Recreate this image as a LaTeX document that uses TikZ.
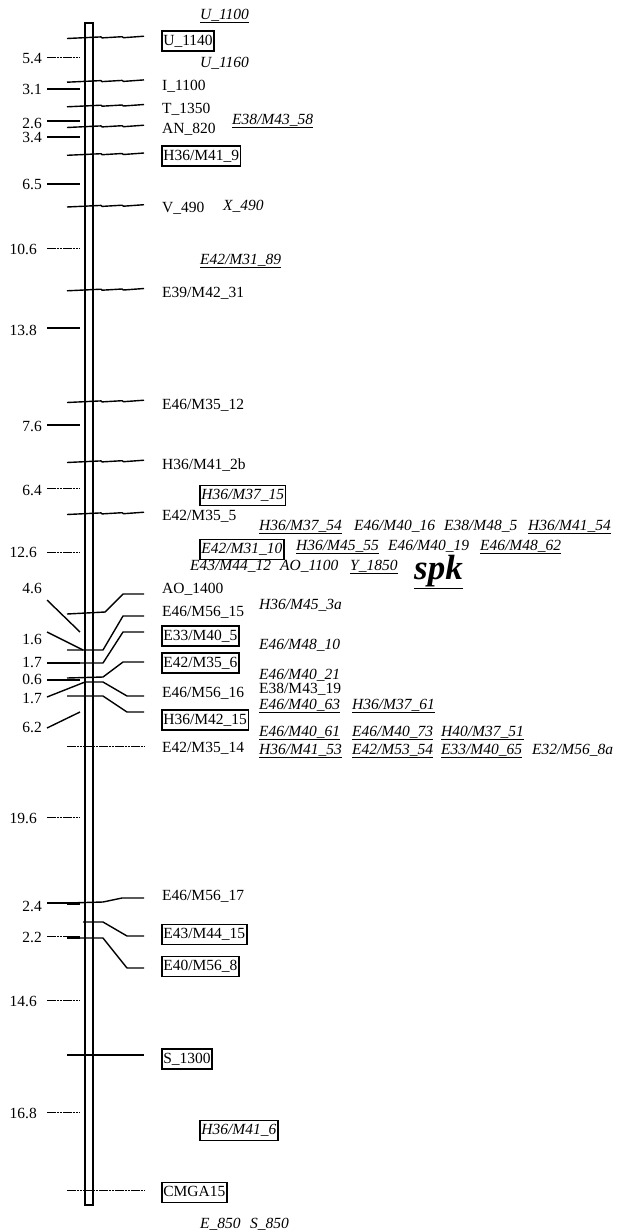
\documentclass[tikz,border=0pt]{standalone}
\usepackage{fontspec}
\setmainfont{Liberation Serif}
\newcommand\mfs{\fontsize{15.5}{18}\selectfont}
\newcommand\ul[1]{\underline{#1}}
\begin{document}
\begin{tikzpicture}[x=1pt,y=-1pt,
  mk/.style={line width=1.4pt,line join=round},
  thinmk/.style={line width=1pt,dash pattern=on 2.5pt off 0.7pt},
  tk/.style={line width=1.4pt},
  lab/.style={anchor=base west,inner sep=0pt,font=\mfs},
  ilab/.style={anchor=base west,inner sep=0pt,font=\mfs\itshape},
  num/.style={anchor=base east,inner sep=0pt,font=\mfs},
  bx/.style={draw,line width=1.7pt,anchor=west,inner xsep=1.5pt,inner ysep=3.5pt,text height=10.5pt,text depth=2.5pt,font=\mfs},
  ibx/.style={bx,font=\mfs\itshape},
  zigmark/.pic={\draw[mk] (67,1.3) -- (101,-0.3) -- (102,0.7) -- (122,-0.5) -- (123.5,0.5) -- (144,-1);}
]
\useasboundingbox (0,0) rectangle (620,1232);
% chromosome
\node[draw,line width=1.4pt,minimum width=8pt,minimum height=1182pt,inner sep=0pt] (chr) at (89,614) {};

% scale ticks, horizontal
\foreach \y/\t/\b/\r/\s in {57/5.4/63/42/thinmk, 89/3.1/94/42/tk, 121/2.6/128/42/tk, 137/3.4/142/42/tk, 184/6.5/189/42/tk, 248/10.6/254/37/thinmk, 328/13.8/335/37/tk, 425/7.6/431/42/tk, 488/6.4/495/42/thinmk, 552/12.6/557/37/thinmk, 663/1.7/667/42/tk, 680/0.6/684/42/tk, 817/19.6/823/37/thinmk, 903/2.4/911/42/tk, 936/2.2/942/42/thinmk, 1000/14.6/1006/37/thinmk, 1112/16.8/1118/37/thinmk}{
  \node[num] (n\y) at (\r,\b) {\t};
  \coordinate (ta\y) at (47,\y);
  \coordinate (tb\y) at (80,\y);
  \draw[\s] (ta\y) -- (tb\y);
}
% scale ticks, slanted
\node[num] (d46) at (42,593) {4.6};
\draw[tk] (47,600) -- (80,632);
\node[num] (d16) at (42,644) {1.6};
\draw[tk] (47,632) -- (83,650);
\node[num] (d17) at (42,703) {1.7};
\draw[tk] (47,697) -- (85,682);
\node[num] (d62) at (42,732) {6.2};
\draw[tk] (47,728) -- (80,712);
\draw[line width=3pt] (67,903) -- (80,903);
\draw[line width=3pt] (67,937) -- (80,937);

% zigzag markers
\foreach \y in {37.2, 80.9, 105.5, 126.2, 154, 205.7, 289.5, 401.2, 461.2, 513.2}{
  \pic at (0,\y) {zigmark};
}

% labels top part
\node[ilab] (u1100) at (200,19) {\ul{U\_1100}};
\node[bx] (u1140) at (161,41) {U\_1140};
\node[ilab] (u1160) at (200,67) {U\_1160};
\node[lab] (i1100) at (162,90) {I\_1100};
\node[lab] (t1350) at (162,113) {T\_1350};
\node[ilab] (e3858) at (232,124) {\ul{E38/M43\_58}};
\node[lab] (an820) at (162,133) {AN\_820};
\node[bx] (h369) at (161,156) {H36/M41\_9};
\node[lab] (v490) at (162,212) {V\_490};
\node[ilab] (x490) at (223,210) {X\_490};
\node[ilab] (e4289) at (200,264) {\ul{E42/M31\_89}};
\node[lab] (e3931) at (162,297) {E39/M42\_31};
\node[lab] (e4612) at (162,409) {E46/M35\_12};
\node[lab] (h362b) at (162,469) {H36/M41\_2b};
\node[ibx] (h3715) at (199,495.5) {H36/M37\_15};
\node[lab] (e425) at (162,520) {E42/M35\_5};

% cluster rows
\node[ilab] (r1a) at (259,530) {\ul{H36/M37\_54}};
\node[ilab] (r1b) at (354,530) {E46/M40\_16};
\node[ilab] (r1c) at (444,530) {E38/M48\_5};
\node[ilab] (r1d) at (528,530) {\ul{H36/M41\_54}};
\node[ibx] (r2a) at (199,549.5) {E42/M31\_10};
\node[ilab] (r2b) at (296,550) {\ul{H36/M45\_55}};
\node[ilab] (r2c) at (388,550) {E46/M40\_19};
\node[ilab] (r2d) at (480,550) {\ul{E46/M48\_62}};
\node[ilab] (r3a) at (190,570) {E43/M44\_12};
\node[ilab] (r3b) at (280,570) {AO\_1100};
\node[ilab] (r3c) at (350,570) {\ul{Y\_1850}};
\node[anchor=base west,inner sep=0pt,font=\fontsize{35}{38}\selectfont\bfseries\itshape] (spk) at (414,579) {\ul{spk}};

\node[lab] (ao1400) at (162,593) {AO\_1400};
\node[lab] (e4615) at (162,616) {E46/M56\_15};
\node[ilab] (h363a) at (259,609) {H36/M45\_3a};
\node[bx] (e335) at (161,636) {E33/M40\_5};
\node[ilab] (e4810) at (259,649) {E46/M48\_10};
\node[bx] (e426) at (161,663) {E42/M35\_6};
\node[ilab] (e4021) at (259,679) {E46/M40\_21};
\node[lab] (e4616) at (162,697) {E46/M56\_16};
\node[lab] (e3819) at (259,693) {E38/M43\_19};
\node[ilab] (e4063) at (259,709) {\ul{E46/M40\_63}};
\node[ilab] (h3761) at (352,709) {\ul{H36/M37\_61}};
\node[bx] (h4215) at (161,720) {H36/M42\_15};
\node[ilab] (r5a) at (259,736) {\ul{E46/M40\_61}};
\node[ilab] (r5b) at (352,736) {\ul{E46/M40\_73}};
\node[ilab] (r5c) at (441,736) {\ul{H40/M37\_51}};
\node[lab] (e4214) at (162,752) {E42/M35\_14};
\node[ilab] (r6a) at (259,754) {\ul{H36/M41\_53}};
\node[ilab] (r6b) at (352,754) {\ul{E42/M53\_54}};
\node[ilab] (r6c) at (441,754) {\ul{E33/M40\_65}};
\node[ilab] (r6d) at (532,754) {E32/M56\_8a};

% lower labels
\node[lab] (e4617) at (162,900) {E46/M56\_17};
\node[bx] (e4415) at (161,934.5) {E43/M44\_15};
\node[bx] (e568) at (161,966.5) {E40/M56\_8};
\node[bx] (s1300) at (161,1059) {S\_1300};
\node[ibx] (h416) at (199,1130.5) {H36/M41\_6};
\node[bx] (cmga) at (161,1192.5) {CMGA15};
\node[ilab] (e850) at (200,1228) {E\_850};
\node[ilab] (s850) at (250,1228) {S\_850};

% connectors
\coordinate (c1) at (144,594);
\draw[mk] (67,614) -- (105,612) -- (123,594) -- (c1);
\coordinate (c2) at (144,616);
\draw[mk] (67,650) -- (103,650) -- (123,616) -- (c2);
\coordinate (c3) at (144,632);
\draw[mk] (67,663) -- (103,663) -- (123,632) -- (c3);
\coordinate (c4) at (144,662);
\draw[mk] (67,678) -- (103,677) -- (123,662) -- (c4);
\coordinate (c5) at (144,696);
\draw[mk] (85,682) -- (103,682) -- (127,696) -- (c5);
\coordinate (c6) at (144,712);
\draw[mk] (67,696) -- (103,696) -- (127,712) -- (c6);
\coordinate (c7) at (144,746);
\draw[thinmk] (67,746) -- (c7);
\coordinate (c8) at (144,898);
\draw[mk] (67,903) -- (103,902) -- (122,898) -- (c8);
\coordinate (c9) at (144,936);
\draw[mk] (83,922) -- (103,922) -- (127,936) -- (c9);
\coordinate (c10) at (144,968);
\draw[mk] (67,938) -- (103,938) -- (127,968) -- (c10);
\coordinate (c11) at (144,1055);
\draw[mk] (67,1055) -- (c11);
\coordinate (c12) at (144,1190);
\draw[thinmk] (67,1190) -- (c12);
\end{tikzpicture}
\end{document}
